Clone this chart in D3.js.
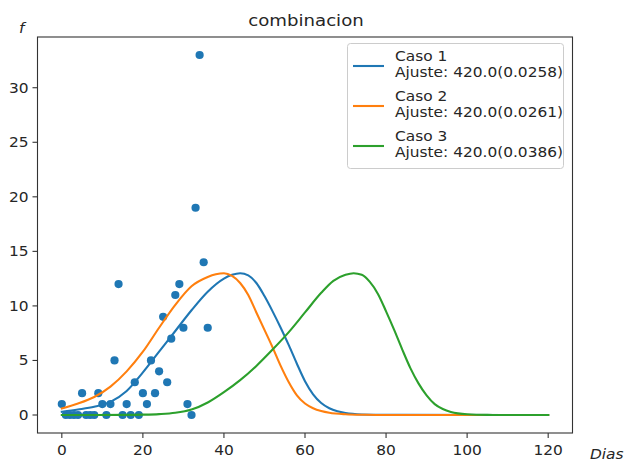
<!DOCTYPE html>
<html>
<head>
<meta charset="utf-8">
<script src="https://cdn.jsdelivr.net/npm/d3@7"></script>
<style>
  html, body { margin: 0; padding: 0; background: #fff; }
  svg { display: block; font-family: "DejaVu Sans", sans-serif; }
</style>
</head>
<body>
<svg id="chart" width="630" height="461"></svg>
<script>
// ---- data ----
const scatterDays = [0,1,2,3,4,5,6,7,8,9,10,11,12,13,14,15,16,17,18,19,20,21,22,23,24,25,26,27,28,29,30,31,32,33,34,35,36];
const scatterVals = [1,0,0,0,0,2,0,0,0,2,1,0,1,5,12,0,1,0,3,0,2,1,5,2,4,9,3,7,11,12,8,1,0,19,33,14,8];

const caso1Days = [0,4,8,12,16,20,24,28,32,36,40,42,44,46,48,50,52,54,56,58,60,62,64,66,68,70,74,80,120];
const caso1Vals = [0.3,0.5,0.75,1.2,2.2,3.9,5.8,7.7,9.6,11.3,12.5,12.85,13.0,12.8,12.1,10.9,9.5,8.0,6.4,4.7,3.1,1.9,1.1,0.62,0.34,0.18,0.05,0.01,0];

const caso2Days = [0,4,8,12,16,20,24,28,32,36,38,40,42,44,46,48,50,52,54,56,58,60,62,64,66,70,75,80,120];
const caso2Vals = [0.6,1.05,1.65,2.6,4.0,5.8,8.0,10.1,11.8,12.65,12.9,13.0,12.75,12.1,11.0,9.4,7.8,6.2,4.5,3.0,1.8,1.05,0.62,0.36,0.2,0.07,0.02,0,0];

const caso3Days = [0,16,20,24,28,32,36,40,44,48,52,56,60,64,67,70,72,74,76,78,80,82,84,86,88,90,92,94,96,100,105,110,120];
const caso3Vals = [0,0.01,0.03,0.08,0.2,0.5,1.15,2.1,3.2,4.5,6.0,7.6,9.4,11.2,12.3,12.85,13.0,12.85,12.2,11.1,9.5,7.8,6.0,4.3,2.9,1.8,1.0,0.55,0.28,0.07,0.01,0,0];

const seriesNames = ["Caso 1", "Caso 2", "Caso 3"];
const seriesFits = ["Ajuste: 420.0(0.0258)", "Ajuste: 420.0(0.0261)", "Ajuste: 420.0(0.0386)"];
const seriesColors = ["#1f77b4", "#ff7f0e", "#2ca02c"];

const xTicks = [0,20,40,60,80,100,120];
const yTicks = [0,5,10,15,20,25,30];
const titleText = "combinacion";
const xLabel = "Dias";
const yLabel = "f";

// ---- layout ----
const svg = d3.select("#chart");
const L = 37.5, R = 572.5, T = 37, B = 433;
const x = d3.scaleLinear().domain([-6, 126]).range([L, R]);
const y = d3.scaleLinear().domain([-1.65, 34.65]).range([B, T]);
const SX = 1.1; // horizontal text stretch seen in reference
const textColor = "#262626";

function txt(g, xx, yy, s, opts = {}) {
  return g.append("text")
    .attr("transform", `translate(${xx},${yy}) scale(${SX},1)`)
    .attr("font-size", opts.size || 14)
    .attr("text-anchor", opts.anchor || "start")
    .attr("font-style", opts.italic ? "italic" : "normal")
    .attr("fill", textColor)
    .text(s);
}

svg.append("rect").attr("x", 0).attr("y", 0).attr("width", 630).attr("height", 461).attr("fill", "#fff");

svg.append("clipPath").attr("id", "clip").append("rect")
  .attr("x", L).attr("y", T).attr("width", R - L).attr("height", B - T);

const plot = svg.append("g").attr("clip-path", "url(#clip)");

// scatter
plot.selectAll("circle.pt")
  .data(scatterDays.map((d, i) => [d, scatterVals[i]]))
  .enter().append("circle")
  .attr("class", "pt")
  .attr("cx", d => x(d[0]))
  .attr("cy", d => y(d[1]))
  .attr("r", 4.1)
  .attr("fill", "#1f77b4");

// curves
const line = d3.line().x(d => x(d[0])).y(d => y(d[1])).curve(d3.curveMonotoneX);
const curves = [
  caso1Days.map((d, i) => [d, caso1Vals[i]]),
  caso2Days.map((d, i) => [d, caso2Vals[i]]),
  caso3Days.map((d, i) => [d, caso3Vals[i]])
];
curves.forEach((c, i) => {
  plot.append("path").datum(c)
    .attr("d", line)
    .attr("fill", "none")
    .attr("stroke", seriesColors[i])
    .attr("stroke-width", 2.1)
    .attr("stroke-linejoin", "round")
    .attr("stroke-linecap", "square");
});

// axes frame
svg.append("rect").attr("x", L).attr("y", T).attr("width", R - L).attr("height", B - T)
  .attr("fill", "none").attr("stroke", "#333").attr("stroke-width", 1.1);

// ticks
const ax = svg.append("g");
xTicks.forEach(t => {
  ax.append("line").attr("x1", x(t)).attr("x2", x(t)).attr("y1", B).attr("y2", B + 5)
    .attr("stroke", "#333").attr("stroke-width", 1.1);
  txt(ax, x(t), 455, String(t), { anchor: "middle" });
});
yTicks.forEach(t => {
  ax.append("line").attr("x1", L - 5).attr("x2", L).attr("y1", y(t)).attr("y2", y(t))
    .attr("stroke", "#333").attr("stroke-width", 1.1);
  txt(ax, L - 9, y(t) + 5, String(t), { anchor: "end" });
});

// title & labels
txt(svg, 306, 26, titleText, { anchor: "middle", size: 16.5 });
txt(svg, 590, 459, xLabel, { italic: true, size: 14 });
txt(svg, 19, 33, yLabel, { italic: true, size: 14 });

// legend
const lg = svg.append("g");
lg.append("rect").attr("x", 347.5).attr("y", 43.5).attr("width", 216).attr("height", 125)
  .attr("rx", 3).attr("ry", 3)
  .attr("fill", "#fff").attr("fill-opacity", 0.8)
  .attr("stroke", "#cccccc").attr("stroke-width", 1);
seriesNames.forEach((n, i) => {
  const cy = 66 + i * 40;
  lg.append("line").attr("x1", 353).attr("x2", 384).attr("y1", cy).attr("y2", cy)
    .attr("stroke", seriesColors[i]).attr("stroke-width", 2.1);
  txt(lg, 395, cy - 5, n, { size: 14 });
  txt(lg, 395, cy + 11, seriesFits[i], { size: 14 });
});
</script>
</body>
</html>
